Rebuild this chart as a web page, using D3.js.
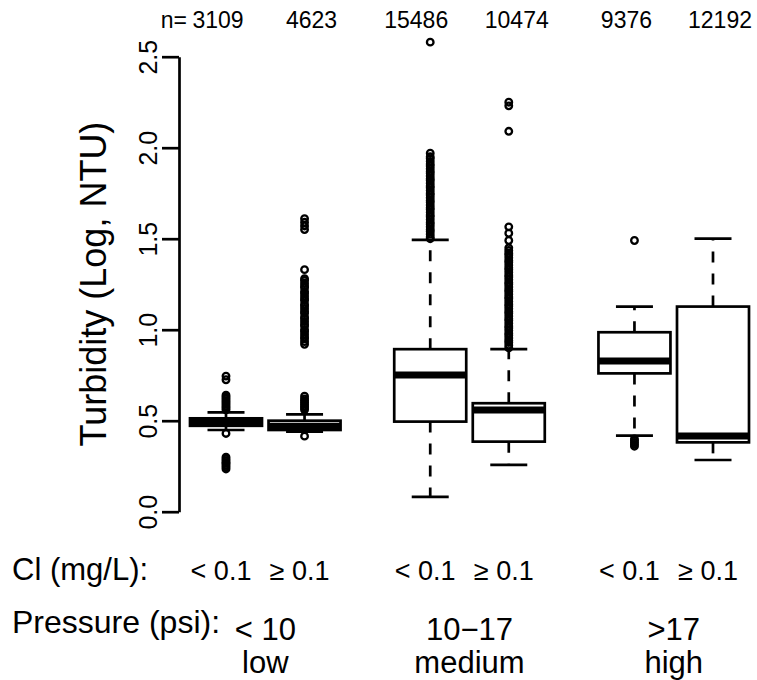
<!DOCTYPE html>
<html lang="en">
    <head>
        <meta charset="utf-8">
        <title>Turbidity by chlorine and pressure</title>
        <script type="text/javascript" src="https://d3js.org/d3.v7.min.js"></script>
        <style type="text/css">
          body { margin: 0; background: white; }
          text { font-family: "Liberation Sans", Arial, sans-serif; fill: black; }
        </style>
    </head>
    <body>
        <script type="text/javascript">
        var w = 757;
        var h = 680;

        // box positions (like R's "at") and sample sizes
        var boxAt = [1, 2, 3.6, 4.6, 6.2, 7.2];
        var nObs = [3109, 4623, 15486, 10474, 9376, 12192];
        var clLabels = ['< 0.1', '\u2265 0.1', '< 0.1', '\u2265 0.1', '< 0.1', '\u2265 0.1'];
        var pressLabels = ['< 10', '10\u221217', '>17'];
        var pressNames = ['low', 'medium', 'high'];
        var yTicks = [0, 0.5, 1, 1.5, 2, 2.5];

        // five number summaries
        var whiskLo = [0.449, 0.440, 0.082, 0.257, 0.418, 0.284];
        var q1      = [0.472, 0.449, 0.495, 0.385, 0.760, 0.381];
        var medians = [0.490, 0.470, 0.751, 0.559, 0.828, 0.416];
        var q3      = [0.513, 0.500, 0.893, 0.596, 0.986, 1.127];
        var whiskHi = [0.546, 0.535, 1.493, 0.893, 1.127, 1.500];

        // outliers per box
        var out1 = [0.235, 0.245, 0.255, 0.265, 0.27, 0.28, 0.29, 0.30, 0.43,
                    0.56, 0.57, 0.58, 0.59, 0.60, 0.61, 0.62, 0.63, 0.64, 0.725, 0.745];
        var out2 = [0.415, 0.56, 0.57, 0.58, 0.59, 0.60, 0.61, 0.62, 0.635,
                    0.92, 0.935, 0.95, 0.96, 0.975, 0.99, 1.0, 1.02, 1.03, 1.045, 1.06, 1.07,
                    1.09, 1.1, 1.115, 1.13, 1.14, 1.16, 1.17, 1.185, 1.2, 1.21, 1.23, 1.24,
                    1.255, 1.27, 1.28, 1.33, 1.55, 1.57, 1.59, 1.61];
        var out3 = [1.50, 1.51, 1.525, 1.54, 1.55, 1.565, 1.58, 1.59, 1.605, 1.62, 1.63,
                    1.645, 1.66, 1.67, 1.685, 1.70, 1.71, 1.725, 1.74, 1.75, 1.765, 1.78,
                    1.79, 1.805, 1.82, 1.83, 1.845, 1.86, 1.87, 1.885, 1.90, 1.91, 1.925,
                    1.94, 1.95, 1.97, 2.58];
        var out4 = [0.90, 0.915, 0.93, 0.94, 0.955, 0.97, 0.98, 0.995, 1.01, 1.02, 1.035,
                    1.05, 1.06, 1.075, 1.09, 1.10, 1.115, 1.13, 1.14, 1.155, 1.17, 1.18,
                    1.195, 1.21, 1.22, 1.235, 1.25, 1.26, 1.275, 1.29, 1.30, 1.315, 1.33,
                    1.34, 1.355, 1.37, 1.38, 1.395, 1.41, 1.42, 1.435, 1.45, 1.49, 1.53,
                    1.565, 2.09, 2.23, 2.25];
        var out5 = [0.36, 0.37, 0.38, 0.39, 0.40, 1.49];
        var out6 = [];
        var outliers = [out1, out2, out3, out4, out5, out6];

        // layout
        var boxW = 72;
        var capW = 37;
        var lw = 2.7;
        var nShift = [-8, 7, -14, 8, -8, 7];

        var svg = d3.select("body").append("svg")
                    .attr("width", w)
                    .attr("height", h);

        var x = d3.scaleLinear()
            .domain([1, 7.2])
            .range([226, 713]);

        var y = d3.scaleLinear()
            .domain([0, 2.5])
            .range([511.7, 56.7]);

        var boxes = boxAt.map(function(a, i){
          return {at: a, lo: whiskLo[i], q1: q1[i], med: medians[i], q3: q3[i], hi: whiskHi[i]};
        });

        var pts = [];
        outliers.forEach(function(arr, i){
          arr.forEach(function(v){ pts.push({at: boxAt[i], v: v}); });
        });

        // y axis
        var gY = svg.append("g")
            .attr("transform", "translate(179,0)")
            .call(d3.axisLeft(y).tickValues(yTicks).tickFormat(d3.format(".1f"))
                    .tickSize(17).tickSizeOuter(0));
        gY.select(".domain").attr("stroke-width", lw);
        gY.selectAll(".tick line").attr("stroke-width", lw);
        gY.selectAll(".tick text")
            .attr("x", 0)
            .attr("dy", null)
            .attr("text-anchor", "middle")
            .attr("transform", "translate(-22,0) rotate(-90)")
            .style("font-family", '"Liberation Sans", Arial, sans-serif')
            .style("font-size", "25px");

        svg.append("text")
            .attr("transform", "translate(106,284) rotate(-90)")
            .attr("text-anchor", "middle")
            .style("font-size", "36px")
            .text("Turbidity (Log, NTU)");

        var gBox = svg.append("g");

        // dashed whiskers
        gBox.selectAll("line.whiskHi")
          .data(boxes)
          .enter()
          .append("line")
            .attr("x1", function(d){ return x(d.at); })
            .attr("x2", function(d){ return x(d.at); })
            .attr("y1", function(d){ return y(d.q3); })
            .attr("y2", function(d){ return y(d.hi); })
            .attr("stroke", "black")
            .attr("stroke-width", lw)
            .attr("stroke-dasharray", "11,11");

        gBox.selectAll("line.whiskLo")
          .data(boxes)
          .enter()
          .append("line")
            .attr("x1", function(d){ return x(d.at); })
            .attr("x2", function(d){ return x(d.at); })
            .attr("y1", function(d){ return y(d.q1); })
            .attr("y2", function(d){ return y(d.lo); })
            .attr("stroke", "black")
            .attr("stroke-width", lw)
            .attr("stroke-dasharray", "11,11");

        // caps
        ["lo", "hi"].forEach(function(k){
          gBox.selectAll("line.cap" + k)
            .data(boxes)
            .enter()
            .append("line")
              .attr("x1", function(d){ return x(d.at) - capW/2; })
              .attr("x2", function(d){ return x(d.at) + capW/2; })
              .attr("y1", function(d){ return y(d[k]); })
              .attr("y2", function(d){ return y(d[k]); })
              .attr("stroke", "black")
              .attr("stroke-width", lw);
        });

        // boxes
        gBox.selectAll("rect")
          .data(boxes)
          .enter()
          .append("rect")
            .attr("x", function(d){ return x(d.at) - boxW/2; })
            .attr("y", function(d){ return y(d.q3); })
            .attr("width", boxW)
            .attr("height", function(d){ return y(d.q1) - y(d.q3); })
            .attr("fill", "white")
            .attr("stroke", "black")
            .attr("stroke-width", lw);

        // medians
        gBox.selectAll("line.med")
          .data(boxes)
          .enter()
          .append("line")
            .attr("x1", function(d){ return x(d.at) - boxW/2; })
            .attr("x2", function(d){ return x(d.at) + boxW/2; })
            .attr("y1", function(d){ return y(d.med); })
            .attr("y2", function(d){ return y(d.med); })
            .attr("stroke", "black")
            .attr("stroke-width", 7);

        // outliers
        gBox.selectAll("circle")
          .data(pts)
          .enter()
          .append("circle")
            .attr("cx", function(d){ return x(d.at); })
            .attr("cy", function(d){ return y(d.v); })
            .attr("r", 3.3)
            .attr("fill", "none")
            .attr("stroke", "black")
            .attr("stroke-width", 2.3);

        // sample sizes on top
        svg.selectAll("text.nlab")
          .data(nObs)
          .enter()
          .append("text")
            .attr("x", function(d, i){ return x(boxAt[i]) + nShift[i]; })
            .attr("y", 28)
            .attr("text-anchor", "middle")
            .style("font-size", "23px")
            .text(function(d){ return d; });

        svg.append("text")
            .attr("x", 187)
            .attr("y", 28)
            .attr("text-anchor", "end")
            .style("font-size", "23px")
            .text("n=");

        // chlorine row
        svg.append("text")
            .attr("x", 12)
            .attr("y", 580)
            .style("font-size", "31px")
            .text("Cl (mg/L):");

        svg.selectAll("text.cl")
          .data(clLabels)
          .enter()
          .append("text")
            .attr("x", function(d, i){ return x(boxAt[i]) - 5; })
            .attr("y", 580)
            .attr("text-anchor", "middle")
            .style("font-size", "27px")
            .text(function(d){ return d; });

        // pressure rows
        svg.append("text")
            .attr("x", 12)
            .attr("y", 633)
            .style("font-size", "32px")
            .text("Pressure (psi):");

        var mids = [0, 1, 2].map(function(g){ return (x(boxAt[2*g]) + x(boxAt[2*g + 1])) / 2; });

        svg.selectAll("text.press")
          .data(pressLabels)
          .enter()
          .append("text")
            .attr("x", function(d, i){ return mids[i]; })
            .attr("y", 640)
            .attr("text-anchor", "middle")
            .style("font-size", "31px")
            .text(function(d){ return d; });

        svg.selectAll("text.pname")
          .data(pressNames)
          .enter()
          .append("text")
            .attr("x", function(d, i){ return mids[i]; })
            .attr("y", 673)
            .attr("text-anchor", "middle")
            .style("font-size", "31px")
            .text(function(d){ return d; });
        </script>
    </body>
</html>
